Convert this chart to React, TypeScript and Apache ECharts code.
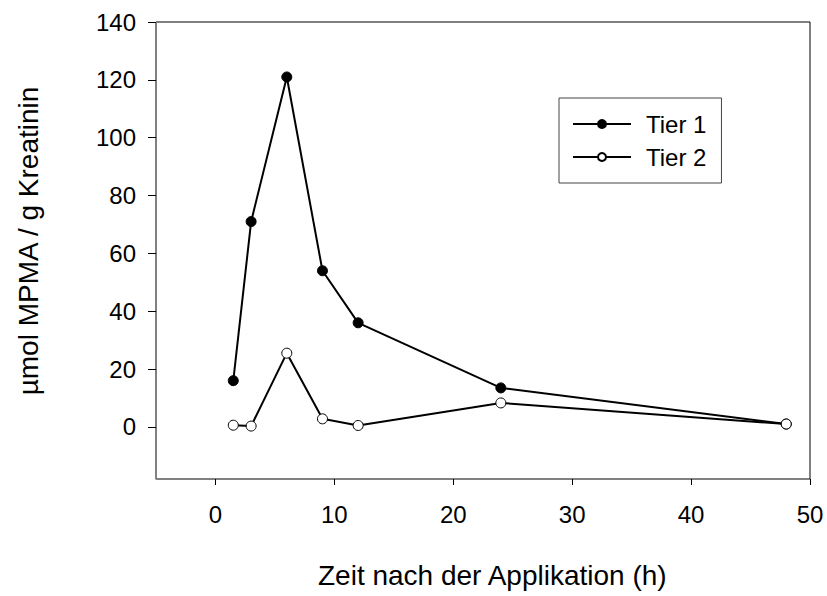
import React, { useEffect, useRef } from "react";
import * as echarts from "echarts";

// Sampling times after application (h)
const hours = [1.5, 3, 6, 9, 12, 24, 48];
// MPMA excretion per animal (µmol / g creatinine)
const tier1 = [16, 71, 121, 54, 36, 13.5, 1];
const tier2 = [0.6, 0.3, 25.5, 2.8, 0.5, 8.3, 1];

const xTicks = [0, 10, 20, 30, 40, 50];
const yTicks = [0, 20, 40, 60, 80, 100, 120, 140];

const seriesNames = ["Tier 1", "Tier 2"];

const FONT = "'Liberation Sans', Arial, sans-serif";
const FS = 24;
const TITLE_FS = 28;

export default function App() {
  const ref = useRef<HTMLDivElement>(null);

  useEffect(() => {
    if (!ref.current) return;
    const chart = echarts.init(ref.current, null, { renderer: "svg" });

    const pairs = (ys: number[]) => hours.map((h, i) => [h, ys[i]]);

    chart.setOption({
      animation: false,
      backgroundColor: "#fff",
      textStyle: { fontFamily: FONT },
      grid: {
        left: 156,
        right: 17,
        top: 22,
        bottom: 117,
        show: true,
        borderColor: "#000",
        borderWidth: 1,
        outerBoundsMode: "none",
      },
      legend: {
        orient: "vertical",
        left: 559,
        top: 98,
        data: seriesNames,
        itemWidth: 58,
        itemHeight: 10,
        itemGap: 9,
        padding: [14, 15, 14, 13],
        borderColor: "#444",
        borderWidth: 1,
        backgroundColor: "#fff",
        textStyle: {
          fontFamily: FONT,
          fontSize: FS,
          color: "#000",
          lineHeight: 24,
          padding: [0, 0, 0, 10],
        },
      },
      xAxis: {
        type: "value",
        min: -5,
        max: 50,
        splitLine: { show: false },
        axisLine: { show: true, onZero: false, lineStyle: { color: "#808080", width: 1 } },
        axisTick: {
          show: true,
          length: 6,
          customValues: xTicks,
          lineStyle: { color: "#000" },
        },
        axisLabel: {
          customValues: xTicks,
          margin: 23,
          fontFamily: FONT,
          fontSize: FS,
          color: "#000",
        },
      },
      yAxis: {
        type: "value",
        min: -18,
        max: 140,
        splitLine: { show: false },
        axisLine: { show: true, onZero: false, lineStyle: { color: "#808080", width: 1 } },
        axisTick: {
          show: true,
          length: 8,
          customValues: yTicks,
          lineStyle: { color: "#000" },
        },
        axisLabel: {
          customValues: yTicks,
          margin: 20,
          fontFamily: FONT,
          fontSize: FS,
          color: "#000",
        },
      },
      graphic: [
        {
          type: "text",
          x: 28,
          y: 241,
          rotation: Math.PI / 2,
          style: {
            text: "µmol MPMA / g Kreatinin",
            font: `${TITLE_FS}px ${FONT}`,
            fill: "#000",
            align: "center",
            verticalAlign: "middle",
          },
        },
        {
          type: "text",
          x: 318,
          y: 575,
          style: {
            text: "Zeit nach der Applikation (h)",
            font: `${TITLE_FS}px ${FONT}`,
            fill: "#000",
            align: "left",
            verticalAlign: "middle",
          },
        },
      ],
      series: [
        {
          name: seriesNames[0],
          type: "line",
          data: pairs(tier1),
          symbol: "circle",
          symbolSize: 10,
          lineStyle: { color: "#000", width: 2 },
          itemStyle: { color: "#000", borderColor: "#000", borderWidth: 1 },
        },
        {
          name: seriesNames[1],
          type: "line",
          data: pairs(tier2),
          symbol: "circle",
          symbolSize: 10,
          lineStyle: { color: "#000", width: 2 },
          itemStyle: { color: "#fff", borderColor: "#000", borderWidth: 1 },
        },
      ],
    });

    return () => chart.dispose();
  }, []);

  return <div ref={ref} style={{ width: 827, height: 596, position: "absolute", left: 0, top: 0 }} />;
}
